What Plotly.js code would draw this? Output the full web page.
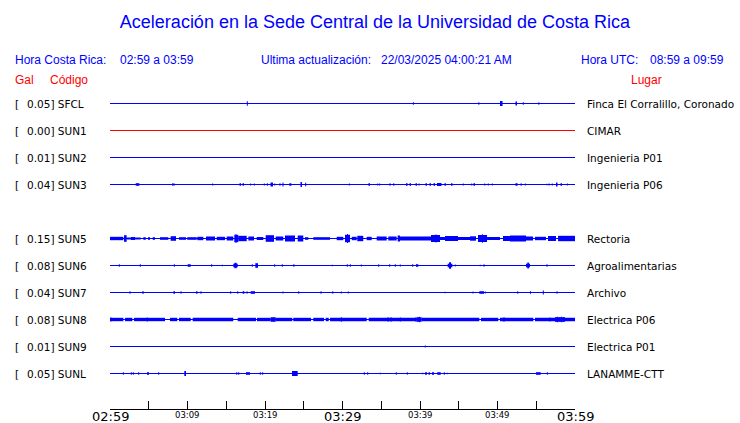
<!DOCTYPE html>
<html><head><meta charset="utf-8">
<script src="https://cdn.plot.ly/plotly-3.0.1.min.js"></script>
<style>html,body{margin:0;padding:0;background:#fff;}</style>
</head><body>
<div id="chart" style="width:740px;height:423px"></div>
<script>
// ---------- DATA ----------
const stationCodes  = ['SFCL','SUN1','SUN2','SUN3','SUN5','SUN6','SUN7','SUN8','SUN9','SUNL'];
const stationGal    = ['0.05','0.00','0.01','0.04','0.15','0.08','0.04','0.08','0.01','0.05'];
const stationPlaces = ['Finca El Corralillo, Coronado','CIMAR','Ingenieria P01','Ingenieria P06','Rectoria',
                       'Agroalimentarias','Archivo','Electrica P06','Electrica P01','LANAMME-CTT'];
const stationSlots  = [0,1,2,3,5,6,7,8,9,10];   // SUN4 has no trace
const tickMinutes   = [0,10,20,30,40,50,60];
const tickLabels    = ['02:59','03:09','03:19','03:29','03:39','03:49','03:59'];
const tickBig       = [true,false,false,true,false,false,true];

// events: [start minute, end minute, half amplitude]
const evSFCL = [[17.72,17.72,2.3],[39.14,39.14,1.3],[47.48,47.68,1],[50.32,50.65,2.5],[52.32,52.52,2],[53.33,53.33,1.3],[55.23,55.42,1]];
const evSUN1 = [];
const evSUN2 = [];
const evSUN3 = [[3.32,3.78,1.3],[8.09,8.09,1.3],[8.26,8.26,1.3],[13.25,13.25,1],[15.39,15.39,0.6],[16.71,16.9,1.3],[17.1,17.29,1.3],[18.15,18.15,1],[18.62,18.62,1],[19.39,19.39,0.6],[19.91,19.91,1],[20.3,20.3,1.3],[20.71,21.03,2],[21.25,21.25,1],[21.87,22.0,1.3],[22.32,22.32,2],[23.14,23.39,1.3],[24.58,24.77,2.5],[25.25,25.25,1.7],[29.07,29.07,0.6],[30.88,30.88,1],[33.35,33.55,1.3],[34.54,34.54,1],[34.8,34.8,1],[35.39,35.39,0.6],[36.06,36.19,1.3],[36.61,36.61,1.3],[38.19,38.39,1.3],[38.65,38.84,1.3],[39.42,39.61,1.3],[39.87,39.87,1],[40.71,40.9,1.3],[41.23,41.42,1.3],[41.74,41.94,1.3],[42.19,42.77,1.5],[43.16,43.35,1.3],[44.0,44.19,1.3],[45.59,45.59,1],[46.67,46.67,1],[46.9,47.1,1.3],[48.35,48.35,1],[48.81,48.81,1],[49.33,49.33,1],[52.32,52.58,1.3],[53.0,53.1,1.3],[53.59,53.59,1],[56.35,56.35,0.7],[56.65,56.65,1],[57.07,57.07,1],[57.55,57.74,2],[58.13,58.32,1.3],[59.01,59.01,1]];
const evSUN5 = [[0,1.72,1.7],[1.81,2.15,3.3],[2.15,3.96,1.0],[2.71,3.23,1.5],[4.3,4.61,1.3],[4.9,5.16,1.3],[5.51,5.81,1.3],[6.45,7.52,1.3],[7.83,8.52,2.3],[8.9,9.81,1.3],[9.97,11.19,1.3],[11.26,12.04,1.7],[12.39,13.55,2],[13.77,14.84,1.7],[15.06,15.91,2],[16.04,16.55,3.7],[16.2,16.3,4.3],[16.55,17.64,2.7],[17.85,18.58,2],[18.93,19.78,1.5],[20.09,21.16,3.3],[21.38,22.36,2],[22.58,23.87,3],[24.22,24.94,3],[25.16,25.59,1.3],[26.23,28.39,1.3],[29.25,30.1,1.7],[30.32,30.97,3.7],[30.6,30.7,4.5],[31.19,31.83,1.7],[31.91,32.68,2.7],[33.12,33.77,1.7],[34.41,35.7,2],[35.91,36.99,2],[37.12,37.42,3],[37.42,40.0,2],[40.0,41.42,2],[41.42,42.58,3.5],[42.0,42.1,4],[42.58,43.23,1.5],[43.23,44.9,2.5],[44.9,46.45,1.5],[46.45,47.23,2.2],[47.48,48.65,3.5],[48.0,48.1,4.3],[48.65,50.32,1.5],[50.71,51.61,2.5],[51.61,53.68,3],[53.68,54.58,2],[54.84,56.26,1.7],[56.52,57.55,2.5],[57.81,60,2.7]];
const evSUN6 = [[1.2,1.2,1.3],[3.91,3.91,1.3],[8.3,8.3,1.3],[10.03,10.41,1.3],[13.12,13.12,1.3],[14.49,14.49,0.7],[15.91,16.48,1.7],[16.05,16.35,2.7],[18.36,18.36,1.3],[18.75,19.1,2.3],[21.25,21.25,1.3],[22.23,22.23,1.3],[23.65,23.8,1.3],[28.68,28.68,0.7],[30.62,30.62,1.3],[31.01,31.01,1.3],[32.43,32.43,1],[34.67,34.67,1.3],[36.09,36.09,1.3],[36.81,36.81,1.3],[37.46,37.46,1],[39.06,39.06,1.3],[39.48,39.78,1.3],[43.57,44.17,1.8],[43.75,44.0,3.3],[44.55,44.55,1],[47.78,47.78,0.7],[48.26,48.26,1.3],[53.68,54.19,1.8],[53.85,54.05,3],[56.39,56.39,1.3]];
const evSUN7 = [[2.52,2.65,1.3],[4.17,4.35,1.3],[8.19,8.39,1.3],[9.16,9.16,1.3],[11.1,11.29,1.3],[11.74,11.74,1.3],[15.57,15.57,1.3],[16.48,16.48,1.3],[17.12,17.33,1.3],[17.68,17.68,1.3],[18.15,18.71,1.3],[22.32,22.32,1],[24.35,24.35,1.3],[27.23,27.23,1.3],[28.74,28.74,1.3],[29.85,29.85,1],[30.75,30.75,1],[43.23,43.23,0.7],[46.84,46.84,1],[47.65,48.26,1.3],[48.43,48.43,1],[52.61,52.61,1.3],[54.19,54.32,1.3],[55.91,55.91,2],[57.61,57.74,1.3]];
const evSUN8 = [[0,1.72,1.7],[1.94,2.88,1.7],[3.1,7.1,1.7],[7.74,8.68,1.7],[8.9,10.41,1.7],[10.67,15.91,1.7],[16.48,18.84,1.7],[18.97,20.74,1.7],[20.74,21.38,2.3],[21.38,23.52,1.7],[23.65,25.94,1.7],[26.23,27.61,1.7],[27.83,28.22,1.7],[28.39,33.12,1.7],[33.38,39.57,1.7],[39.57,40.22,2.3],[40.22,47.65,1.7],[47.87,50.1,1.7],[50.32,54.62,1.7],[54.84,60,1.7],[0.13,0.13,2],[4.81,4.81,2],[29.85,29.85,2.3],[35.87,35.87,2.3],[36.26,36.26,2.3],[37.46,37.46,2],[39.48,39.48,2.3],[39.91,39.91,2.7],[50.84,50.84,2.3],[56.77,56.77,2],[57.42,58.71,2.3],[57.72,57.72,2.7],[58.28,58.28,2.7]];
const evSUN9 = [[40.68,40.68,1]];
const evSUNL = [[1.72,1.72,1.3],[2.75,2.75,1.3],[3.01,3.01,1.3],[3.7,3.7,1.3],[4.77,5.03,1.3],[6.28,6.28,1.3],[9.59,9.81,2.5],[16.35,16.35,1.3],[16.61,16.61,1.3],[17.55,18.06,1.3],[19.39,19.39,1.3],[19.7,19.7,1.3],[23.48,24.22,2.5],[32.81,32.81,1.3],[33.25,33.25,1.3],[34.88,34.88,0.7],[36.94,36.94,1.3],[38.36,38.36,1.3],[40.35,40.35,0.7],[40.65,40.9,1.3],[41.1,41.29,1.3],[41.55,41.81,1.3],[42.23,42.67,1.3],[43.14,43.14,1.3],[43.52,43.52,0.7],[54.97,55.57,1.3],[56.43,56.43,1.3]];
const stationEvents = [evSFCL,evSUN1,evSUN2,evSUN3,evSUN5,evSUN6,evSUN7,evSUN8,evSUN9,evSUNL];

// ---------- LAYOUT CONSTANTS ----------
const W = 740, H = 423, ML = 110, MR = 165, MT = 90, MB = 14;
const PW = W - ML - MR, PH = H - MT - MB;
const BLUE = '#0000ff', RED = '#ff0000';
const ROW0 = 13.5, ROWSTEP = 27, MIN_W = 0.13;
const rowY = s => -(ROW0 + ROWSTEP * s);
const px2paperX = px => (px - ML) / PW;
const py2paperY = py => (H - MB - py) / PH;
const HDR = 'Liberation Sans, Arial, sans-serif';
const MONO = 'DejaVu Sans, sans-serif';

const traces = [];
stationCodes.forEach((code, i) => {
  const y0 = rowY(stationSlots[i]);
  const col = code === 'SUN1' ? RED : BLUE;
  traces.push({type:'scatter', mode:'lines', x:[0,60], y:[y0,y0], line:{color:col, width:1}, hoverinfo:'skip'});
  const ev = stationEvents[i];
  if (ev.length) {
    traces.push({type:'bar', x: ev.map(e => (e[0]+e[1])/2), width: ev.map(e => Math.max(e[1]-e[0], MIN_W)),
      base: ev.map(e => y0 - e[2]), y: ev.map(e => 2*e[2]), marker:{color:col, line:{width:0}}, hoverinfo:'skip'});
  }
});

const ann = [];
function A(o){ ann.push(Object.assign({showarrow:false, borderpad:0, borderwidth:0}, o)); }
function hdr(text, px, py, color, anchor){ A({text, xref:'paper', yref:'paper', x:px2paperX(px), y:py2paperY(py), xanchor:anchor||'left', yanchor:'middle', font:{family:HDR, size:12, color}}); }
hdr('Hora Costa Rica:', 15, 60, BLUE);
hdr('02:59 a 03:59', 120, 60, BLUE);
hdr('Ultima actualización:', 260.5, 60, BLUE);
hdr('22/03/2025 04:00:21 AM', 380.5, 60, BLUE);
hdr('Hora UTC:', 580.5, 60, BLUE);
hdr('08:59 a 09:59', 650, 60, BLUE);
hdr('Gal', 15, 80, RED);
hdr('Código', 50, 80, RED);
hdr('Lugar', 630.5, 80, RED);

stationCodes.forEach((code, i) => {
  const y0 = rowY(stationSlots[i]);
  const f = {family:MONO, size:10.5, color:'#000'};
  A({text:'[', xref:'paper', yref:'y', x:px2paperX(15), y:y0, xanchor:'left', yanchor:'middle', font:f});
  A({text: stationGal[i] + '] ' + code, xref:'paper', yref:'y', x:px2paperX(27), y:y0, xanchor:'left', yanchor:'middle', font:f});
  A({text: stationPlaces[i], xref:'paper', yref:'y', x:px2paperX(587), y:y0, xanchor:'left', yanchor:'middle', font:f});
});

tickMinutes.forEach((m, i) => {
  A({text: tickLabels[i], xref:'x', yref:'paper', x:m, y: py2paperY(tickBig[i] ? 416 : 415), xanchor:'center', yanchor:'middle',
     font:{family:MONO, size: tickBig[i] ? 13 : 8.5, color:'#000'}});
});

const layout = {
  width: W, height: H,
  margin: {l:ML, r:MR, t:MT, b:MB, pad:0},
  paper_bgcolor:'#fff', plot_bgcolor:'#fff',
  showlegend:false, barmode:'overlay',
  title: {text:'Aceleración en la Sede Central de la Universidad de Costa Rica', xref:'container', yref:'container',
          x: 375/W, xanchor:'center', y: 1 - 22/H, yanchor:'middle', font:{family:HDR, size:18, color:BLUE}},
  xaxis: {range:[0,60], tickmode:'linear', tick0:0, dtick:5, ticks:'inside', ticklen:8, tickwidth:1, tickcolor:'#000',
          showline:true, linecolor:'#000', linewidth:1, showgrid:false, zeroline:false, showticklabels:false, fixedrange:true},
  yaxis: {range:[-PH, 0], visible:false, fixedrange:true},
  annotations: ann
};
Plotly.newPlot('chart', traces, layout, {staticPlot:true, displayModeBar:false});
</script>
</body></html>
